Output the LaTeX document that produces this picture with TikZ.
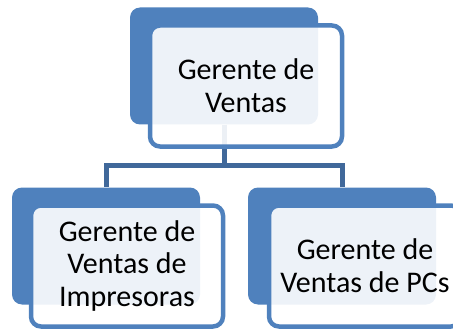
\documentclass[tikz,border=0pt]{standalone}
\usepackage{fontspec}
\setmainfont{Carlito}
\definecolor{boxblue}{RGB}{79,129,189}
\definecolor{linkblue}{RGB}{64,104,154}

\begin{document}
\begin{tikzpicture}[x=1pt,y=-1pt,
	back/.style={rectangle,rounded corners=10pt,fill=boxblue,minimum width=188pt,minimum height=117pt,inner sep=0pt},
	front/.style={rectangle,rounded corners=10pt,draw=boxblue,line width=4.5pt,fill=white,fill opacity=0.9,text opacity=1,minimum width=192pt,minimum height=121pt,inner sep=0pt,align=center,font=\fontsize{30}{33}\selectfont},
	link/.style={draw=linkblue,line width=5pt}]
	\useasboundingbox (0,0) rectangle (453,329);
	\node[back] (GB) at (224,66) {};
	\node[back] (IB) at (106,246) {};
	\node[back] (PB) at (342,246) {};
	\draw[link] (GB.south) -- ++(0,41) -| (IB.north);
	\draw[link] (GB.south) -- ++(0,41) -| (PB.north);
	\node[front] (G) at (246,86) {Gerente de\\Ventas};
	\node[front] (I) at (127,266) {Gerente de\\Ventas de\\Impresoras};
	\node[front] (P) at (365,266) {Gerente de\\Ventas de PCs};
\end{tikzpicture}
\end{document}
